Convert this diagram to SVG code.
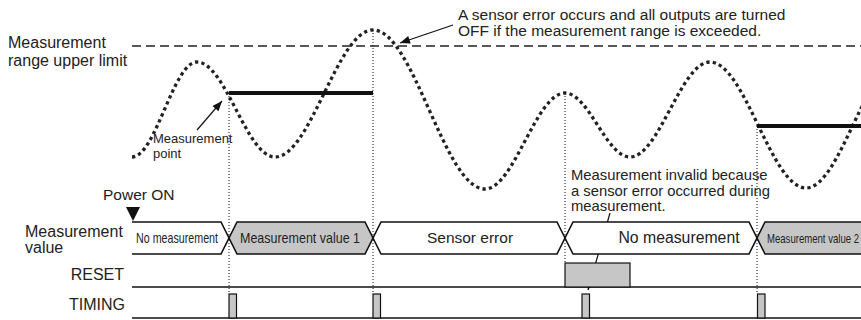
<svg xmlns="http://www.w3.org/2000/svg" width="861" height="320" viewBox="0 0 861 320">
<defs>
<style>
text{font-family:"Liberation Sans",Arial,sans-serif;fill:#222}
.lbl{font-size:16px}
.note{font-size:14.8px}
.bus{stroke:#111;stroke-width:1.6;stroke-linejoin:miter}
.wh{fill:#fff}
.gr{fill:#c6c6c6}
.vdot{stroke:#111;stroke-width:1;stroke-dasharray:1 2;fill:none}
.sig{stroke:#111;stroke-width:1.6;fill:none}
.pulse{fill:#c6c6c6;stroke:#111;stroke-width:1.2}
.arw{stroke:#111;stroke-width:1.2;fill:none;marker-end:url(#ah)}
</style>
<marker id="ah" viewBox="0 0 10 8" refX="10" refY="4" markerWidth="11" markerHeight="8" markerUnits="userSpaceOnUse" orient="auto">
<path d="M0,0 L10,4 L0,8 z" fill="#111"/>
</marker>
</defs>
<rect width="861" height="320" fill="#fff"/>

<g id="upper-limit">
<line x1="132" y1="46" x2="861" y2="46" stroke="#222" stroke-width="1.3" stroke-dasharray="9 5"/>
<text class="lbl" x="8" y="48">Measurement</text>
<text class="lbl" x="8" y="66">range upper limit</text>
</g>

<g id="waveform">
<path d="M132,157 C155.7,157 173.3,62 197,62 C225.4,62 246.6,157 275,157 C310.7,157 337.3,30 373,30 C413.8,30 444.2,189 485,189 C514.1,189 535.9,93 565,93 C588.7,93 606.3,157 630,157 C659.1,157 680.9,62 710,62 C744.9,62 771.1,188 806,188 C840.2,188 865.8,62 900,62" fill="none" stroke="#222" stroke-width="3.3" stroke-dasharray="3.3 3.2"/>
<line x1="229" y1="93" x2="373" y2="93" stroke="#111" stroke-width="4"/>
<line x1="757" y1="126" x2="861" y2="126" stroke="#111" stroke-width="4"/>
</g>

<g id="guides">
<line class="vdot" x1="229" y1="93" x2="229" y2="294"/>
<line class="vdot" x1="373" y1="30" x2="373" y2="294"/>
<line class="vdot" x1="565" y1="93" x2="565" y2="263"/>
<line class="vdot" x1="757" y1="126" x2="757" y2="294"/>
</g>

<g id="annotations">
<text x="153" y="143" style="font-size:13px">Measurement</text>
<text x="153" y="158" style="font-size:13px">point</text>
<line class="arw" x1="197" y1="130" x2="222" y2="101"/>
<text x="458" y="20" style="font-size:15.5px">A sensor error occurs and all outputs are turned</text>
<text x="458" y="36" style="font-size:15.5px">OFF if the measurement range is exceeded.</text>
<line class="arw" x1="453" y1="25" x2="400" y2="43"/>
<text class="note" x="571" y="180">Measurement invalid because</text>
<text class="note" x="571" y="195.5">a sensor error occurred during</text>
<text class="note" x="571" y="210.5">measurement.</text>
<line class="arw" x1="610" y1="213" x2="588" y2="290"/>
</g>

<g id="power-on">
<text class="lbl" x="103" y="200" style="font-size:15.5px">Power ON</text>
<path d="M126,207 L140,207 L133,221 z" fill="#111"/>
</g>

<g id="measurement-value">
<text class="lbl" x="25" y="237">Measurement</text>
<text class="lbl" x="25" y="252.5">value</text>
<path class="bus wh" d="M132,222 H221 L229,238 L221,254 H132"/>
<path class="bus gr" d="M237,222 H365 L373,238 L365,254 H237 L229,238 Z"/>
<path class="bus wh" d="M381,222 H557 L565,238 L557,254 H381 L373,238 Z"/>
<path class="bus wh" d="M573,222 H749 L757,238 L749,254 H573 L565,238 Z"/>
<path class="bus gr" d="M765,222 H875 L883,238 L875,254 H765 L757,238 Z"/>
<text x="136" y="243" style="font-size:15px" textLength="82" lengthAdjust="spacingAndGlyphs">No measurement</text>
<text x="240" y="243" style="font-size:15px" textLength="120" lengthAdjust="spacingAndGlyphs">Measurement value 1</text>
<text x="470" y="243" style="font-size:15.5px" text-anchor="middle">Sensor error</text>
<text x="679" y="243" style="font-size:15.8px" text-anchor="middle">No measurement</text>
<text x="767" y="243" style="font-size:13px" textLength="92" lengthAdjust="spacingAndGlyphs">Measurement value 2</text>
</g>

<g id="reset">
<text class="lbl" x="124" y="279.5" text-anchor="end">RESET</text>
<line class="sig" x1="132" y1="287" x2="861" y2="287"/>
<rect class="pulse" x="565" y="263" width="65" height="24"/>
</g>

<g id="timing">
<text class="lbl" x="125" y="310" text-anchor="end">TIMING</text>
<line class="sig" x1="132" y1="318" x2="861" y2="318"/>
<rect class="pulse" x="229" y="294" width="7.5" height="24"/>
<rect class="pulse" x="373" y="294" width="7.5" height="24"/>
<rect class="pulse" x="582" y="294" width="7.5" height="24"/>
<rect class="pulse" x="757.5" y="294" width="7.5" height="24"/>
</g>
</svg>
